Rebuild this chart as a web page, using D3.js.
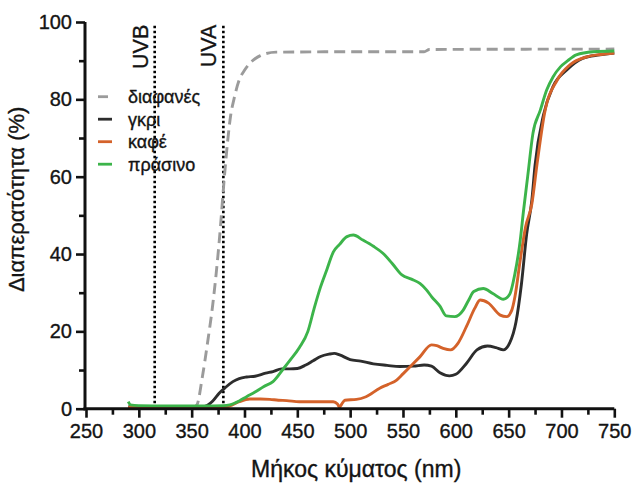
<!DOCTYPE html>
<html>
<head>
<meta charset="utf-8">
<script src="https://cdn.jsdelivr.net/npm/d3@7"></script>
<style>
  html, body { margin: 0; padding: 0; background: #fff; }
  svg { display: block; font-family: "Liberation Sans", Arial, sans-serif; }
</style>
</head>
<body>
<svg id="chart" width="635" height="484"></svg>
<script>
// Wavelength (nm) and transmittance (%) for each filter colour
const clearNm   = [350, 355, 360, 365, 370, 376, 381, 384, 387, 390, 395, 400, 405, 410, 415, 420, 430, 500, 570, 575, 750];
const clearVal  = [0, 1, 8, 17, 27, 43, 60, 69, 76, 80, 85, 87.5, 89.3, 90.5, 91.3, 91.8, 92.2, 92.3, 92.3, 92.9, 93.0];

const greyNm    = [290, 300, 320, 340, 360, 365, 370, 376, 382, 389, 395, 402, 410, 420, 427, 435, 443, 450, 458, 465, 472, 480, 485, 490, 500, 510, 522, 535, 547, 560, 570, 577, 585, 594, 600, 610, 620, 630, 638, 645, 651, 657, 662, 667, 672, 675, 683, 692, 705, 720, 736, 750];
const greyVal   = [0.5, 0.4, 0.4, 0.4, 0.5, 0.9, 2, 4, 5.5, 7, 7.8, 8.2, 8.4, 9.2, 9.6, 10.3, 10.3, 10.4, 11.3, 12.4, 13.5, 14.1, 14.3, 13.9, 12.7, 12.3, 11.6, 11.2, 10.9, 11, 11.3, 11, 9.3, 8.5, 8.9, 11.7, 15.2, 16.2, 15.8, 15.2, 17, 22.5, 32, 45, 54, 63, 76, 83.3, 87.6, 90.6, 91.5, 92];

const brownNm   = [290, 320, 360, 380, 386, 395, 405, 415, 424, 432, 440, 452, 470, 484, 488, 490, 492, 495, 506, 515, 528, 536, 544, 550, 557, 566, 577, 582, 588, 595, 602, 610, 618, 623, 631, 642, 648, 653, 656, 661, 666, 672, 677, 684, 696, 708, 724, 737, 750];
const brownVal  = [0.3, 0.3, 0.3, 0.3, 0.7, 1.8, 2.5, 2.5, 2.4, 2.2, 2.1, 1.8, 1.8, 1.8, 1.2, 0.4, 1.2, 2.2, 2.4, 3.1, 5.3, 6.3, 7.4, 9, 10.9, 13.4, 16.5, 16.3, 15.6, 15.2, 16.9, 21.2, 26, 28.1, 27.3, 24.2, 23.8, 25.5, 29, 38.5, 47, 53, 63.5, 76.4, 85, 88.9, 91, 91.6, 92];

const greenNm   = [290, 292, 300, 330, 360, 380, 386, 395, 402, 410, 418, 427, 437, 443, 452, 460, 466, 472, 478, 484, 490, 497, 503, 512, 522, 531, 540, 549, 558, 566, 572, 577, 585, 591, 599, 607, 612, 617, 626, 635, 645, 651, 656, 661, 664, 668, 673, 680, 686, 692, 699, 706, 714, 730, 750];
const greenVal  = [1.8, 1.0, 0.8, 0.7, 0.7, 0.8, 1.0, 2, 3.1, 4.3, 5.7, 7.0, 10.4, 12.5, 15.8, 20, 26, 31.5, 36, 40.5, 42.5, 44.5, 44.9, 43.6, 42, 40.2, 37.5, 34.6, 33.5, 32.4, 30.8, 29, 26.5, 24, 23.8, 25.5, 28, 30.3, 31.1, 29.8, 28.3, 29.6, 35, 43.6, 51, 60, 71.2, 77.2, 82.4, 85.8, 88.4, 90, 91.5, 92.3, 92.5];

const seriesNames = ["διαφανές", "γκρι", "καφέ", "πράσινο"];
const seriesColors = ["#9b9b9b", "#2d2d2d", "#d4622a", "#3cb44a"];

// UV band boundaries
const uvLabels = ["UVB", "UVA"];
const uvNm = [315, 380];

const xTicks = [250, 300, 350, 400, 450, 500, 550, 600, 650, 700, 750];
const yTicks = [0, 20, 40, 60, 80, 100];

const xTitle = "Μήκος κύματος (nm)";
const yTitle = "Διαπερατότητα (%)";

const ink = "#141414";
const svg = d3.select("#chart");
const x = d3.scaleLinear().domain([250, 750]).range([86, 614.3]);
const y = d3.scaleLinear().domain([0, 100]).range([408.7, 22]);

const series = [
  { name: seriesNames[0], color: seriesColors[0], dash: "11,6", pts: d3.zip(clearNm, clearVal) },
  { name: seriesNames[1], color: seriesColors[1], dash: null, pts: d3.zip(greyNm, greyVal) },
  { name: seriesNames[2], color: seriesColors[2], dash: null, pts: d3.zip(brownNm, brownVal) },
  { name: seriesNames[3], color: seriesColors[3], dash: null, pts: d3.zip(greenNm, greenVal) }
];

// Heavier text, like the printed figure
function inked(sel) {
  return sel.attr("fill", ink).attr("stroke", ink).attr("stroke-width", 0.35);
}

// UV boundary markers
const uv = svg.append("g");
uvNm.forEach((nm, i) => {
  uv.append("line")
    .attr("x1", x(nm)).attr("x2", x(nm))
    .attr("y1", y(99)).attr("y2", y(0))
    .attr("stroke", "#000").attr("stroke-width", 2.6)
    .attr("stroke-dasharray", "2.4,2.6");
  inked(uv.append("text")
    .attr("transform", `translate(${x(nm) - 7},${y(99.3)}) rotate(-90)`)
    .attr("text-anchor", "end")
    .attr("font-size", 21.5)
    .text(uvLabels[i]));
});

// Spectra
const line = d3.line().x(d => x(d[0])).y(d => y(d[1])).curve(d3.curveMonotoneX);
svg.append("g").selectAll("path").data(series).join("path")
  .attr("d", d => line(d.pts))
  .attr("fill", "none")
  .attr("stroke", d => d.color)
  .attr("stroke-width", 2.9)
  .attr("stroke-linejoin", "round")
  .attr("stroke-dasharray", d => d.dash);

// Axes
const xAxis = svg.append("g").attr("transform", `translate(0,${y(0)})`)
  .call(d3.axisBottom(x).tickValues(xTicks).tickSize(9).tickPadding(6).tickFormat(d3.format("d")));
svg.append("g").attr("transform", `translate(0,${y(0)})`)
  .call(d3.axisBottom(x).tickValues(d3.range(275, 750, 50)).tickSize(6).tickFormat(""))
  .call(g => g.select(".domain").remove());
const yAxis = svg.append("g").attr("transform", `translate(${x(250) - 1},0)`)
  .call(d3.axisLeft(y).tickValues(yTicks).tickSize(9).tickPadding(4).tickFormat(d3.format("d")));
svg.append("g").attr("transform", `translate(${x(250) - 1},0)`)
  .call(d3.axisLeft(y).tickValues(d3.range(10, 100, 20)).tickSize(6).tickFormat(""))
  .call(g => g.select(".domain").remove());

svg.selectAll(".domain").attr("stroke", "#111").attr("stroke-width", 3);
svg.selectAll(".tick line").attr("stroke", "#111").attr("stroke-width", 2.6);
inked(svg.selectAll(".tick text").attr("font-size", 20)
  .attr("font-family", "Liberation Sans, Arial, sans-serif"));
xAxis.select(".domain").attr("d", `M${x(250) - 2.5},0H${x(750)}`);
yAxis.select(".domain").attr("d", `M0,${y(100)}V${y(0) + 1.5}`);

// Axis titles
inked(svg.append("text")
  .attr("x", (x(250) + x(750)) / 2 + 6).attr("y", 477)
  .attr("text-anchor", "middle").attr("font-size", 23)
  .text(xTitle));
inked(svg.append("text")
  .attr("transform", `translate(24,${y(50) - 16}) rotate(-90)`)
  .attr("text-anchor", "middle").attr("font-size", 22)
  .text(yTitle));

// Legend
const legend = svg.append("g");
series.forEach((s, i) => {
  const cy = 96.7 + i * 22.5;
  legend.append("line")
    .attr("x1", 98).attr("x2", 112).attr("y1", cy).attr("y2", cy)
    .attr("stroke", s.color).attr("stroke-width", 2.8)
    .attr("stroke-dasharray", s.dash ? "10,6" : null);
  inked(legend.append("text")
    .attr("x", 128).attr("y", cy).attr("dy", "0.35em")
    .attr("font-size", 18)
    .text(s.name));
});
</script>
</body>
</html>
